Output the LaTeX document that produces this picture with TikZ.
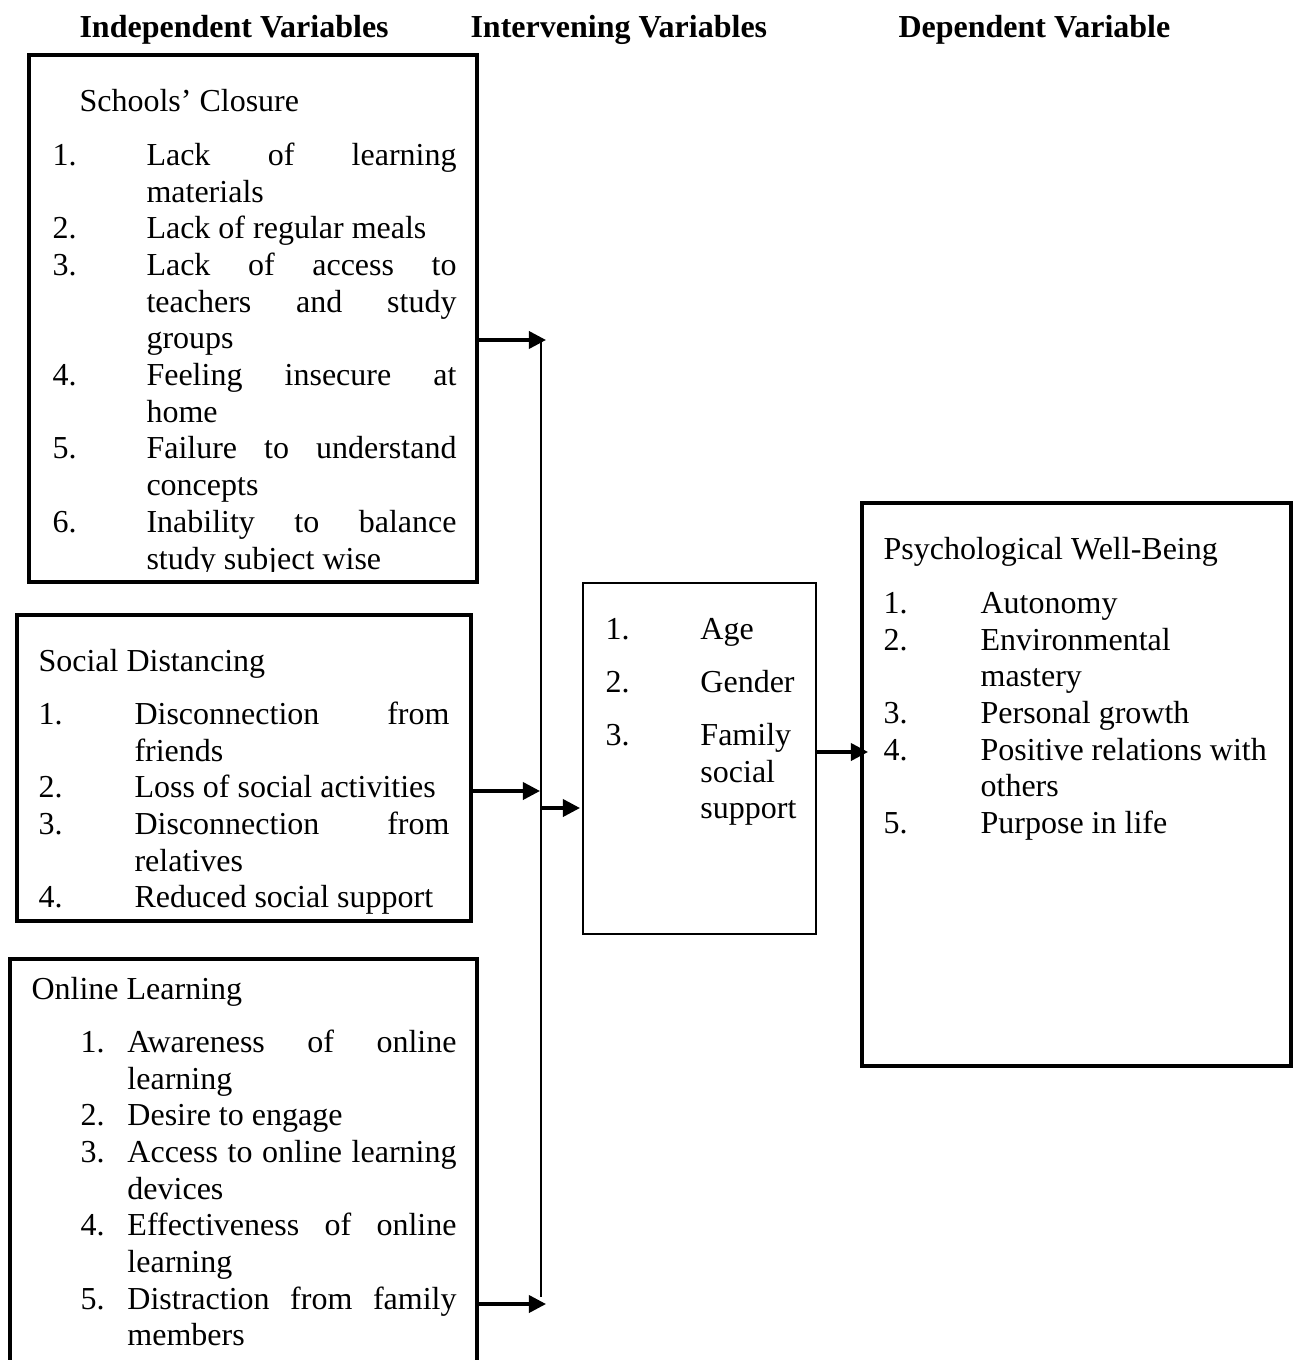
\documentclass[tikz,border=0pt]{standalone}
\usepackage{fontspec}
\setmainfont{Liberation Serif}
\usetikzlibrary{arrows.meta,fit}
\newlength\numw
\newlength\txtw
\newcommand\nrow[2]{\makebox[\numw][l]{#1}#2}
\newcommand\crow[1]{\hspace*{\numw}#1}
\newcommand\jst[1]{\makebox[\txtw][s]{#1}}
\tikzset{
  box/.style={draw, line width=1.35pt, inner sep=0pt},
  thinbox/.style={draw, line width=0.6pt, inner sep=0pt},
  txt/.style={inner sep=0pt, align=left, anchor=north west, font=\fontsize{12}{13.76}\selectfont},
  ttl/.style={inner sep=0pt, anchor=base west, font=\fontsize{12}{13.76}\selectfont},
  head/.style={inner sep=0pt, anchor=base west, font=\fontsize{12}{13.76}\selectfont\bfseries},
  arr/.style={line width=1.3pt, -{Triangle[length=6.4pt,width=6.4pt]}},
  vline/.style={line width=0.75pt}
}
\begin{document}
\begin{tikzpicture}[x=0.375pt, y=-0.375pt]
\useasboundingbox (0,0) rectangle (1297,1360);

% headings
\node[head] (h1) at (79,38) {Independent Variables};
\node[head] (h2) at (470,38) {Intervening Variables};
\node[head] (h3) at (898,38) {Dependent Variable};

% box 1: Schools' Closure
\node[box, fit={(29,55) (477,582)}] (b1) {};
\node[ttl] (t1) at (79,112) {Schools’ Closure};
\begin{scope}
\clip (29,55) rectangle (477,572);
\global\numw=35.25pt\relax
\global\txtw=116.25pt\relax
\node[txt] (l1) at (52,139.2) {\strut
\nrow{1.}{\jst{Lack of learning}}\\
\crow{materials}\\
\nrow{2.}{Lack of regular meals}\\
\nrow{3.}{\jst{Lack of access to}}\\
\crow{\jst{teachers and study}}\\
\crow{groups}\\
\nrow{4.}{\jst{Feeling insecure at}}\\
\crow{home}\\
\nrow{5.}{\jst{Failure to understand}}\\
\crow{concepts}\\
\nrow{6.}{\jst{Inability to balance}}\\
\crow{study subject wise}};
\end{scope}

% box 2: Social Distancing
\node[box, fit={(17,615) (471,921)}] (b2) {};
\node[ttl] (t2) at (38,671) {Social Distancing};
\global\numw=36pt\relax
\global\txtw=118.1pt\relax
\node[txt] (l2) at (38,698.2) {\strut
\nrow{1.}{\jst{Disconnection from}}\\
\crow{friends}\\
\nrow{2.}{Loss of social activities}\\
\nrow{3.}{\jst{Disconnection from}}\\
\crow{relatives}\\
\nrow{4.}{Reduced social support}};

% box 3: Online Learning
\node[box, fit={(10,959) (477,1380)}] (b3) {};
\node[ttl] (t3) at (31,999) {Online Learning};
\global\numw=17.6pt\relax
\global\txtw=123.4pt\relax
\node[txt] (l3) at (80,1026.2) {\strut
\nrow{1.}{\jst{Awareness of online}}\\
\crow{learning}\\
\nrow{2.}{Desire to engage}\\
\nrow{3.}{\jst{Access to online learning}}\\
\crow{devices}\\
\nrow{4.}{\jst{Effectiveness of online}}\\
\crow{learning}\\
\nrow{5.}{\jst{Distraction from family}}\\
\crow{members}};

% box 4: intervening
\node[thinbox, fit={(583,583) (816,934)}] (b4) {};
\global\numw=35.6pt\relax
\node[txt] (l4) at (605,613.2) {\strut
\nrow{1.}{Age}\\[6.1pt]
\nrow{2.}{Gender}\\[6.1pt]
\nrow{3.}{Family}\\
\crow{social}\\
\crow{support}};

% box 5: Psychological Well-Being
\node[box, fit={(862,503) (1291,1066)}] (b5) {};
\node[ttl] (t5) at (883,560) {Psychological Well-Being};
\global\numw=36.4pt\relax
\node[txt] (l5) at (883,587.2) {\strut
\nrow{1.}{Autonomy}\\
\nrow{2.}{Environmental}\\
\crow{mastery}\\
\nrow{3.}{Personal growth}\\
\nrow{4.}{Positive relations with}\\
\crow{others}\\
\nrow{5.}{Purpose in life}};

% connectors
\coordinate (vtop) at (541,340);
\coordinate (vbot) at (541,1297);
\coordinate (e1) at (546,340);
\coordinate (e2) at (540,791);
\coordinate (e3) at (546,1304);
\coordinate (s4) at (541,808);
\coordinate (e4) at (580,808);
\coordinate (e5) at (868,752);

\draw[vline] (vtop) -- (vbot);
\draw[arr] (b1.east |- e1) -- (e1);
\draw[arr] (b2.east |- e2) -- (e2);
\draw[arr] (b3.east |- e3) -- (e3);
\draw[arr] (s4) -- (e4);
\draw[arr] (b4.east |- e5) -- (e5);
\end{tikzpicture}
\end{document}
